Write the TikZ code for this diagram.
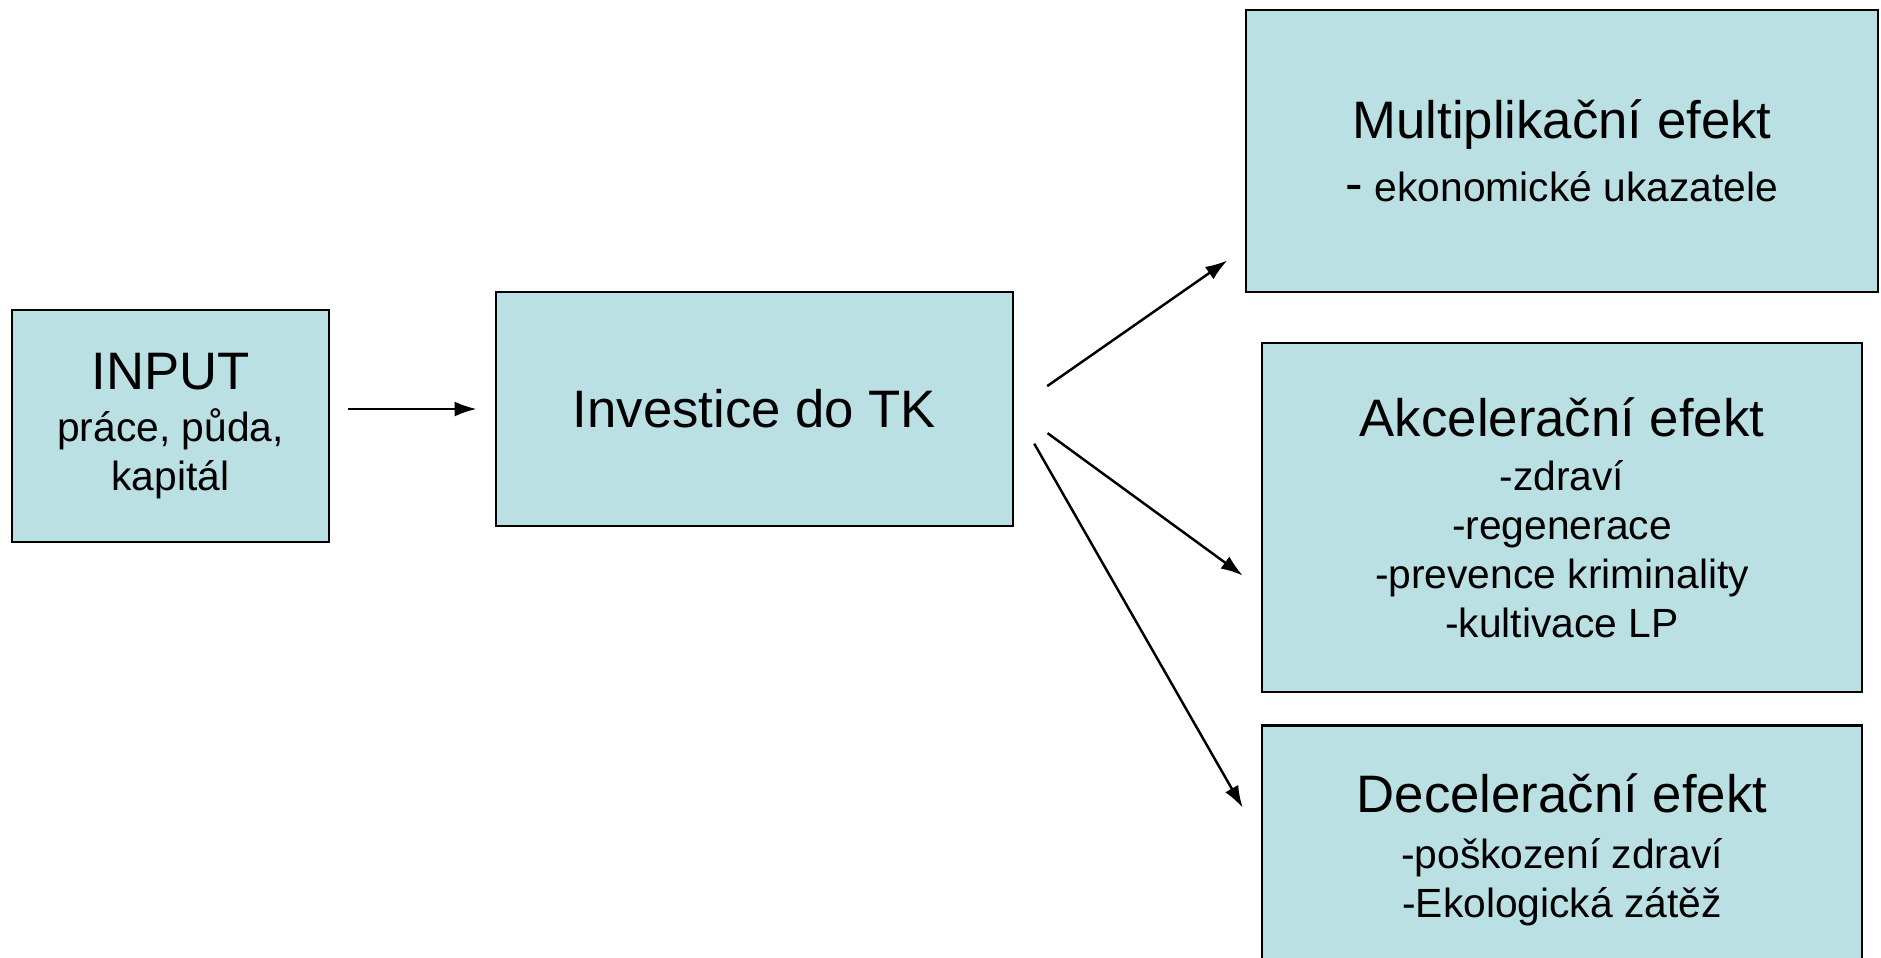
\documentclass[tikz,border=0pt]{standalone}
\usepackage{fontspec}
\setmainfont{Liberation Sans}
\usetikzlibrary{arrows.meta}
\def\tkrgb#1#2#3{rgb,255:red,#1;green,#2;blue,#3}
\newcommand{\headfont}{\fontsize{15}{18}\selectfont}
\newcommand{\itemfont}{\fontsize{11.6}{13.9}\selectfont}
\tikzset{
  effbox/.style={shape=rectangle,fill=\tkrgb{187}{224}{227},draw=black,line width=0.8pt,inner sep=0pt,align=center,font=\itemfont},
  arr/.style={-{Latex[length=2.2mm,width=1.5mm]},line width=0.7pt,color=black!100}
}

\begin{document}
\begin{tikzpicture}

\useasboundingbox (0,0) rectangle (18.81,9.57);

% Draw the nodes...
\node (input) at (    1.7050,    5.3100) [effbox,minimum width=3.17cm,minimum height=2.32cm] {{\headfont INPUT}\\[1pt]práce, půda,\\[0pt]kapitál};
\node (invest) at (    7.5450,    5.4800) [effbox,minimum width=5.17cm,minimum height=2.34cm] {\headfont Investice do TK};
\node (mult) at (   15.6200,    8.0600) [effbox,minimum width=6.32cm,minimum height=2.82cm] {{\headfont Multiplikační efekt}\\[4pt]{\headfont -} ekonomické ukazatele};
\node (akc) at (   15.6200,    4.3950) [effbox,minimum width=6.00cm,minimum height=3.49cm] {{\headfont Akcelerační efekt}\\[1.5pt]-zdraví\\[0pt]-regenerace\\[0pt]-prevence kriminality\\[0pt]-kultivace LP};
\node (dec) at (   15.6200,    1.0700) [effbox,minimum width=6.00cm,minimum height=2.49cm] {{\headfont Decelerační efekt}\\[2pt]-poškození zdraví\\[0pt]-Ekologická zátěž};

% Draw the edges...
\draw[arr,shorten <=0.18cm,shorten >=0.18cm] (invest.west -| input.east) -- (invest.west);
\draw[arr,shorten <=0.40cm,shorten >=0.21cm] (invest.east) -- ([yshift=4.5mm]mult.south west);
\draw[arr,shorten <=0.41cm,shorten >=0.22cm] (invest.east) -- ([yshift=-7.1mm]akc.west);
\draw[arr,shorten <=0.40cm,shorten >=0.36cm] (invest.east) -- ([yshift=1.1mm]dec.west);

\end{tikzpicture}
\end{document}
